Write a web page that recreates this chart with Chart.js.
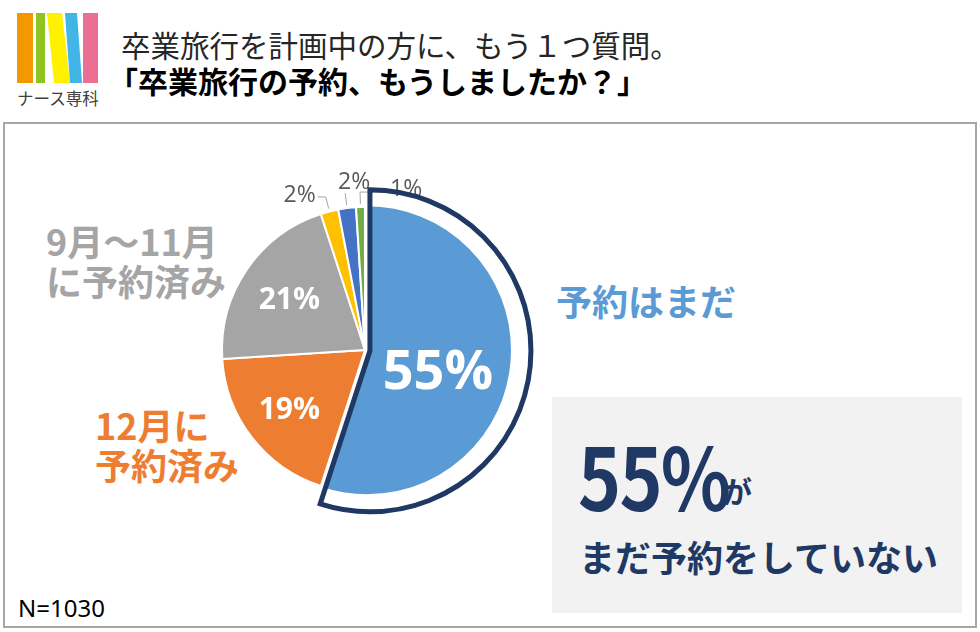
<!DOCTYPE html>
<html lang="ja">
<head>
<meta charset="UTF-8">
<title>卒業旅行の予約</title>
<script src="https://cdn.jsdelivr.net/npm/chart.js"></script>
<style>
  body {
      margin: 0;
      width: 980px;
      height: 632px;
      background: #fff;
      position: relative;
      overflow: hidden;
      font-family: "Noto Sans CJK JP", "Noto Sans", sans-serif;
  }
  .abs { position: absolute; white-space: nowrap; }
  #logo { left: 16px; top: 13px; }
  #brand { left: 17px; top: 88px; font-size: 16.5px; color: #404040; line-height: 20px; }
  #title1 { left: 121px; top: 24px; font-size: 29.5px; color: #262626; line-height: 40px; }
  #title2 { left: 108px; top: 60px; font-size: 30px; font-weight: 700; color: #000; line-height: 40px; }
  #frame { left: 3px; top: 122px; width: 970px; height: 502px; border: 2px solid #a6a6a6; }
  #chartBox { left: 135px; top: 140px; width: 460px; height: 420px; }
  .cat { font-size: 36px; font-weight: 700; line-height: 40px; }
  #catGray { left: 46px; top: 220px; color: #a5a5a5; }
  #catOrange { left: 95px; top: 404px; color: #ed7d31; }
  #catBlue { left: 556px; top: 280px; color: #5b9bd5; }
  #note { left: 552px; top: 397px; width: 410px; height: 216px; background: #f2f2f2; color: #203864; }
  #bigPct { position: absolute; left: 26px; top: 22px; font-size: 86px; font-weight: 700; line-height: 110px;
            letter-spacing: -2px; transform: scaleX(0.85); transform-origin: left center; }
  #ga { position: absolute; left: 170px; top: 73px; font-size: 30px; font-weight: 700; line-height: 40px; }
  #noteText { position: absolute; left: 27px; top: 139px; font-size: 36px; font-weight: 700; line-height: 40px; }
  #nCount { left: 18px; top: 594px; font-size: 24px; line-height: 28px; color: #000; font-family: "Noto Sans", sans-serif; }
</style>
</head>
<body>
  <svg id="logo" class="abs" width="84" height="72" viewBox="0 0 84 72">
    <rect x="1" y="0" width="16" height="70" fill="#f39800"/>
    <rect x="20" y="0" width="9" height="70" fill="#8fc31f"/>
    <polygon points="31,0 46,0 54,70 38,70" fill="#fff100"/>
    <polygon points="49,0 61,0 66,70 54,70" fill="#40b5e6"/>
    <rect x="67" y="0" width="15" height="70" fill="#eb6e93"/>
  </svg>
  <div id="brand" class="abs">ナース専科</div>
  <div id="title1" class="abs">卒業旅行を計画中の方に、もう１つ質問。</div>
  <div id="title2" class="abs">「卒業旅行の予約、もうしましたか？」</div>
  <div id="frame" class="abs"></div>

  <div id="catGray" class="abs cat">9月～11月<br>に予約済み</div>
  <div id="catOrange" class="abs cat">12月に<br>予約済み</div>
  <div id="catBlue" class="abs cat">予約はまだ</div>

  <div id="note" class="abs">
    <div id="bigPct">55%</div>
    <div id="ga">が</div>
    <div id="noteText">まだ予約をしていない</div>
  </div>
  <div id="nCount" class="abs">N=1030</div>

  <div id="chartBox" class="abs"><canvas id="pie"></canvas></div>

  <script>
    // answers, clockwise from 12 o'clock
    const categories = ['予約はまだ', '12月に予約済み', '9月～11月に予約済み', 'その他A', 'その他B', 'その他C'];
    const shares = [55, 19, 21, 2, 2, 1];
    const sliceColors = ['#5b9bd5', '#ed7d31', '#a5a5a5', '#ffc000', '#4472c4', '#70ad47'];

    // labels inside the big slices: radius fraction and a small vertical nudge
    const innerFrac = [0.46, 0.67, 0.64];
    const innerNudge = [12, 2, 2];
    const innerFont = ['bold 54px "Open Sans", sans-serif', 'bold 30px "Open Sans", sans-serif', 'bold 30px "Open Sans", sans-serif'];

    const sliceLabels = {
        id: 'sliceLabels',
        afterDatasetsDraw(chart) {
            const ctx = chart.ctx;
            const arcs = chart.getDatasetMeta(0).data;
            ctx.save();

            // white labels inside the three big slices
            ctx.textAlign = 'center';
            ctx.textBaseline = 'middle';
            ctx.fillStyle = '#fff';
            for (let i = 0; i < 3; i++) {
                const a = arcs[i].getProps(['x', 'y', 'startAngle', 'endAngle', 'outerRadius'], true);
                const mid = (a.startAngle + a.endAngle) / 2;
                const r = a.outerRadius * innerFrac[i] + (arcs[i].options.offset || 0);
                ctx.font = innerFont[i];
                ctx.fillText(shares[i] + '%', a.x + Math.cos(mid) * r, a.y + Math.sin(mid) * r + innerNudge[i]);
            }

            // small slices: leader lines and grey labels
            ctx.strokeStyle = '#a6a6a6';
            ctx.lineWidth = 1;
            ctx.fillStyle = '#595959';
            ctx.font = '23px "Open Sans", sans-serif';
            for (let i = 3; i < arcs.length; i++) {
                const a = arcs[i].getProps(['x', 'y', 'startAngle', 'endAngle', 'outerRadius'], true);
                const mid = (a.startAngle + a.endAngle) / 2;
                const p1 = [a.x + Math.cos(mid) * (a.outerRadius + 3), a.y + Math.sin(mid) * (a.outerRadius + 3)];
                const p2 = [a.x + Math.cos(mid) * (a.outerRadius + 15), a.y + Math.sin(mid) * (a.outerRadius + 15)];
                ctx.beginPath();
                ctx.moveTo(p1[0], p1[1]);
                ctx.lineTo(p2[0], p2[1]);
                if (i === 3) {
                    ctx.lineTo(p2[0] - 8, p2[1]);
                    ctx.stroke();
                    ctx.textAlign = 'right';
                    ctx.fillText(shares[i] + '%', p2[0] - 10, p2[1] - 2);
                } else if (i === 4) {
                    ctx.stroke();
                    ctx.textAlign = 'center';
                    ctx.fillText(shares[i] + '%', p2[0] + 9, p2[1] - 11);
                } else {
                    ctx.lineTo(p2[0] + 28, p2[1]);
                    ctx.stroke();
                    ctx.textAlign = 'left';
                    ctx.fillText(shares[i] + '%', p2[0] + 30, p2[1] - 3);
                }
            }

            // navy outline around the exploded first slice
            const a = arcs[0].getProps(['x', 'y', 'startAngle', 'endAngle', 'outerRadius'], true);
            const mid = (a.startAngle + a.endAngle) / 2;
            const off = (arcs[0].options.offset || 0) - 3;
            const cx = a.x + Math.cos(mid) * off;
            const cy = a.y + Math.sin(mid) * off;
            ctx.beginPath();
            ctx.moveTo(cx, cy);
            ctx.arc(cx, cy, a.outerRadius + 18, a.startAngle, a.endAngle);
            ctx.closePath();
            ctx.strokeStyle = '#203864';
            ctx.lineWidth = 5;
            ctx.lineJoin = 'miter';
            ctx.stroke();
            ctx.restore();
        }
    };

    const chart = new Chart(document.getElementById('pie').getContext('2d'), {
        type: 'pie',
        data: {
            labels: categories,
            datasets: [{
                data: shares,
                backgroundColor: sliceColors,
                borderColor: '#fff',
                borderWidth: 2,
                offset: [8, 0, 0, 0, 0, 0]
            }]
        },
        options: {
            responsive: true,
            maintainAspectRatio: false,
            animation: false,
            radius: 143,
            layout: { padding: 0 },
            plugins: {
                legend: { display: false },
                tooltip: { enabled: false }
            }
        },
        plugins: [sliceLabels]
    });
  </script>
</body>
</html>
